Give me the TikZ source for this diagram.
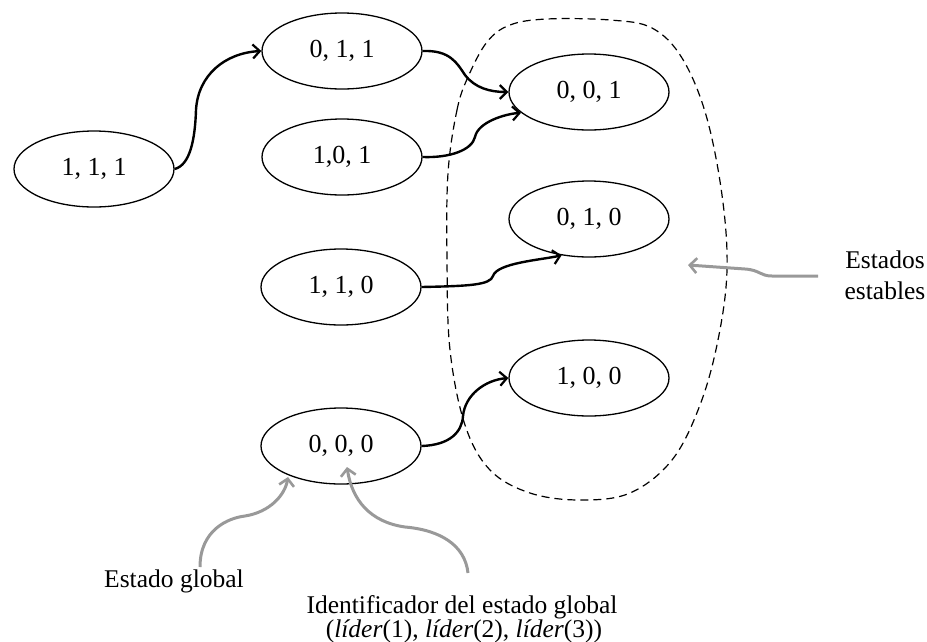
\documentclass[tikz,border=0pt]{standalone}
\usepackage{fontspec}
\setmainfont{Liberation Serif}
\usetikzlibrary{shapes.geometric,arrows.meta}

\tikzset{
  state/.style={ellipse, draw, line width=1.3pt, minimum width=160pt, minimum height=76pt,
    inner sep=0pt, font=\fontsize{26}{30}\selectfont},
  label/.style={font=\fontsize{25.5}{31}\selectfont, inner sep=0pt, align=center},
  trans/.style={line width=2.4pt, -{Straight Barb[length=7pt,width=14pt,line width=2.2pt]}},
  pointer/.style={line width=3pt, draw=gray!80, -{Straight Barb[length=7pt,width=15pt,line width=2.6pt]}},
  region/.style={dashed, line width=1.2pt, dash pattern=on 8pt off 5pt}
}

\begin{document}
\begin{tikzpicture}[x=1pt,y=-1pt]
\useasboundingbox (0,0) rectangle (927,641);

% set of stable states
\draw[region] plot[smooth cycle, tension=0.6] coordinates {
  (448,173) (457,110) (468,77) (487,42) (510,25) (547,19) (610,20) (652,28)
  (682,58) (706,115) (722,195) (727,270) (718,340) (700,405) (672,460)
  (630,493) (580,500) (530,493) (490,470) (465,425) (450,350) (447,260)};

% global states
\node[state] (n111) at (94,169)  {1, 1, 1};
\node[state] (n011) at (342,51)  {0, 1, 1};
\node[state] (n101) at (342,157) {1,0, 1};
\node[state] (n110) at (341,287) {1, 1, 0};
\node[state] (n000) at (341,446) {0, 0, 0};
\node[state] (n001) at (589,92)  {0, 0, 1};
\node[state] (n010) at (589,219) {0, 1, 0};
\node[state] (n100) at (589,378) {1, 0, 0};

% transitions
\draw[trans] (n111.east) .. controls (190,165) and (195,140) .. (196,110)
  .. controls (198,75) and (225,53) .. (n011.west);
\draw[trans] (n011.east) .. controls (450,50) and (457,63) .. (465,75)
  .. controls (475,88) and (490,92) .. (n001.west);
\draw[trans] (n101.east) .. controls (450,158) and (472,150) .. (475,137)
  .. controls (478,122) and (505,114) .. (n001.197);
\draw[trans] (n110.east) .. controls (470,286) and (490,285) .. (493,276)
  .. controls (497,263) and (540,260) .. (n010.233);
\draw[trans] (n000.east) .. controls (450,445) and (462,432) .. (463,416)
  .. controls (465,395) and (485,380) .. (n100.west);

% annotations
\node[label] (lbl-stable) at (885,275) {Estados\\estables};
\node[label, anchor=base] (lbl-global) at (174,587) {Estado global};
\node[label, anchor=base] (lbl-id) at (462,613) {Identificador del estado global};
\node[label, anchor=base] (lbl-id2) at (464,637)
  {(\textit{líder}(1), \textit{líder}(2), \textit{líder}(3))};

\coordinate (t-stable) at (818,276);
\coordinate (t-global) at (200,567);
\coordinate (t-id) at (468,573);
\coordinate (h-stable) at (688,265);
\coordinate (h-global) at (288,477);
\coordinate (h-id) at (347,467);

\draw[pointer] (t-stable) -- (772,276) .. controls (760,276) and (760,270) .. (745,269) -- (h-stable);
\draw[pointer] (t-global) .. controls (200,530) and (228,518) .. (245,516)
  .. controls (270,512) and (285,495) .. (h-global);
\draw[pointer] (t-id) .. controls (465,545) and (440,530) .. (405,527)
  .. controls (370,522) and (352,500) .. (h-id);
\end{tikzpicture}
\end{document}
